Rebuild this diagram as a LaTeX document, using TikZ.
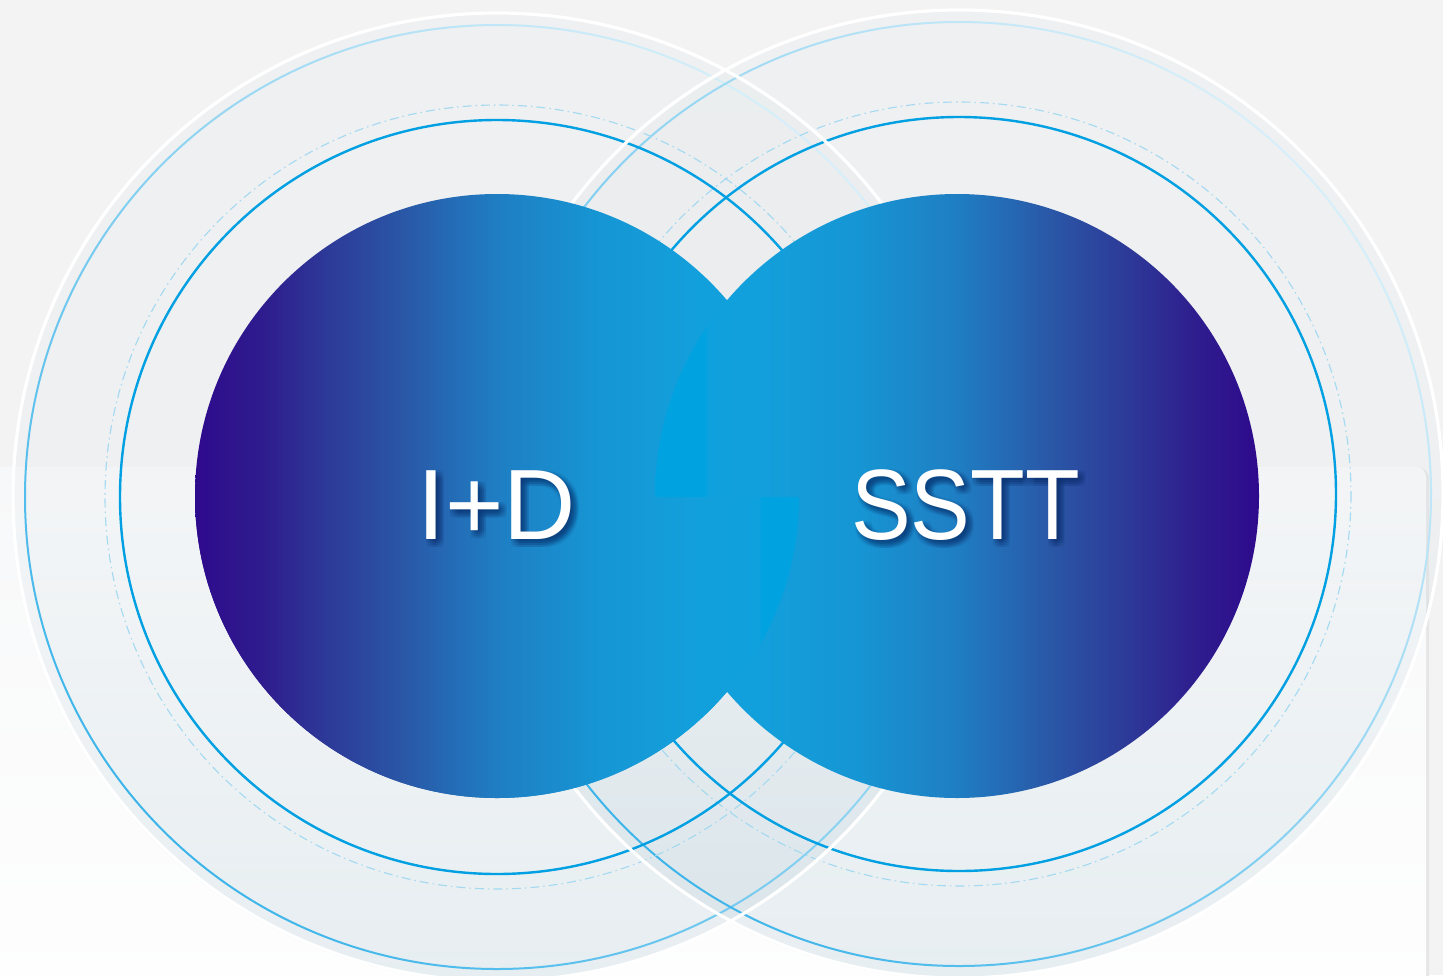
\documentclass[tikz,border=0pt]{standalone}
\usepackage{fontspec}
\setmainfont{Liberation Sans}
\usetikzlibrary{fadings}
\definecolor{dA}{HTML}{2E0A8C}
\definecolor{dB}{HTML}{2E1E8E}
\definecolor{dC}{HTML}{2D3A98}
\definecolor{dD}{HTML}{2A56A6}
\definecolor{dE}{HTML}{1F7EC3}
\definecolor{dF}{HTML}{1696D4}
\definecolor{dG}{HTML}{12A0DC}
\definecolor{dH}{HTML}{0FA1DD}
\definecolor{cy}{HTML}{00A3E0}
\definecolor{bgtop}{HTML}{F3F3F3}
\definecolor{shadowc}{HTML}{E6E6E6}
\definecolor{lowtop}{HTML}{F7F8F9}
\definecolor{lowbot}{HTML}{FEFEFE}
\definecolor{fillc}{HTML}{C8D8E0}
\definecolor{palering}{HTML}{D6EFFA}
\definecolor{strongring}{HTML}{3DB5EA}
\definecolor{ringblue}{HTML}{00A0E2}
\definecolor{dashblue}{HTML}{A3D9F1}
\definecolor{txtshadow}{HTML}{0B2A66}
\pgfdeclarehorizontalshading{leftdisk}{100bp}{color(0bp)=(dA); color(25bp)=(dA); color(31bp)=(dB); color(36bp)=(dC); color(42bp)=(dD); color(50bp)=(dE); color(58.5bp)=(dF); color(66.8bp)=(dG); color(71.6bp)=(dH); color(71.9bp)=(cy); color(100bp)=(cy)}
\pgfdeclarehorizontalshading{rightdisk}{100bp}{color(0bp)=(cy); color(29.1bp)=(cy); color(29.4bp)=(dH); color(33.2bp)=(dG); color(41.5bp)=(dF); color(50bp)=(dE); color(58bp)=(dD); color(64bp)=(dC); color(69.6bp)=(dB); color(75bp)=(dA); color(100bp)=(dA)}
\tikzfading[name=ringfade, top color=transparent!92, bottom color=transparent!58, middle color=transparent!90]
\tikzset{
  halo/.style={fillc, path fading=ringfade, fit fading=true},
  outerring/.style={even odd rule, top color=palering, bottom color=strongring, shading angle=-45},
  whitering/.style={draw=white, line width=3.2pt},
  solidring/.style={draw=ringblue, line width=2.4pt},
  dashring/.style={draw=dashblue, line width=1.1pt, dash pattern=on 9pt off 4pt on 1.5pt off 4pt},
  bigtext/.style={text=white, anchor=base, inner sep=0pt, font=\fontsize{100}{100}\selectfont},
  shadowtext/.style={text=txtshadow, text opacity=0.05, anchor=base, inner sep=0pt, font=\fontsize{100}{100}\selectfont}
}
\begin{document}
\begin{tikzpicture}[x=1pt,y=-1pt]
\useasboundingbox (0,0) rectangle (1443,975);
% background
\fill[bgtop] (0,0) rectangle (1443,975);
\fill[shadowc, rounded corners=10pt] (-20,468) rectangle (1429,995);
\shade[top color=lowtop, bottom color=lowbot, rounded corners=10pt] (-20,467) rectangle (1426,995);
% centers
\coordinate (L) at (497,497);
\coordinate (R) at (959,494);
\coordinate (DL) at (497,496);
\coordinate (DR) at (957,496);
% halos
\fill[halo] (L) circle[radius=485];
\fill[halo] (R) circle[radius=485];
% outer light rings
\shade[outerring] (L) circle[radius=473] (L) circle[radius=471];
\shade[outerring] (R) circle[radius=473] (R) circle[radius=471];
% dash-dot rings
\draw[dashring] (L) circle[radius=392];
\draw[dashring] (R) circle[radius=392];
% solid rings
\draw[solidring] (L) circle[radius=377];
\draw[solidring] (R) circle[radius=377];
% white rings
\draw[whitering] (L) circle[radius=484];
\draw[whitering] (R) circle[radius=484];
% disks
\shade[shading=leftdisk] (DL) circle[radius=302];
\shade[shading=rightdisk] (DR) circle[radius=302];
\begin{scope}
  \clip (0,497) rectangle (1443,975);
  \shade[shading=leftdisk] (DL) circle[radius=302];
\end{scope}
% soft text shadows
\foreach \dx in {0,2,4,6,8}{
  \foreach \dy in {0,2,4,6,8}{
    \node[shadowtext] (shid\dx\dy) at (496.5+\dx,539+\dy) {I+D};
    \node[shadowtext] (shss\dx\dy) at (965.4+\dx,539+\dy) {\scalebox{0.895}[1]{SSTT}};
  }
}
% texts
\node[bigtext] (id) at (496.5,539) {I+D};
\node[bigtext] (sstt) at (965.4,539) {\scalebox{0.895}[1]{SSTT}};
\end{tikzpicture}
\end{document}
